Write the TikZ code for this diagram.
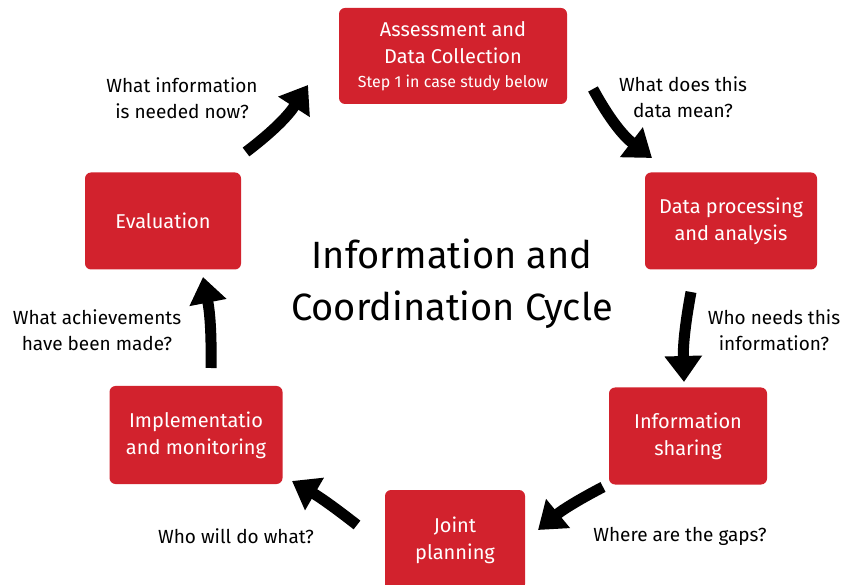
\documentclass[tikz,border=0pt]{standalone}
\usepackage{fontspec}
\setmainfont{Fira Sans}
\usetikzlibrary{arrows.meta}
\definecolor{boxred}{RGB}{210,34,45}

\begin{document}
\begin{tikzpicture}[x=1pt,y=-1pt,
  stage/.style={fill=boxred,rounded corners=6pt,text=white,align=center,inner sep=0pt,
    font=\fontsize{20}{27}\selectfont},
  question/.style={align=center,font=\fontsize{19}{26}\selectfont},
  bigarrow/.style={line width=11pt,-{Triangle[width=36pt,length=26pt]}}]
\useasboundingbox (0,0) rectangle (844,585);

% the six stages
\node [stage,minimum width=228pt,minimum height=96pt] (assess) at (453,56)
  {Assessment and\\Data Collection\\[-3pt]{\fontsize{16}{20}\selectfont Step 1 in case study below}};
\node [stage,minimum width=172pt,minimum height=97pt] (process) at (731,221) {Data processing\\and analysis};
\node [stage,minimum width=158pt,minimum height=97pt] (share) at (688,436) {Information\\sharing};
\node [stage,minimum width=140pt,minimum height=100pt] (plan) at (455,540) {Joint\\planning};
\node [stage,minimum width=173pt,minimum height=98pt] (impl) at (196,435) {Implementatio\\and monitoring};
\node [stage,minimum width=156pt,minimum height=97pt] (eval) at (163,221) {Evaluation};

\node [align=center,font=\fontsize{38}{52}\selectfont] (title) at (452,284) {Information and\\Coordination Cycle};

% questions
\node [question] (q1) at (182,98) {What information\\is needed now?};
\node [question] (q2) at (683,97) {What does this\\data mean?};
\node [question] (q3) at (774,330) {Who needs this\\information?};
\node [question] (q4) at (680,536) {Where are the gaps?};
\node [question] (q5) at (236,536) {Who will do what?};
\node [question] (q6) at (97,330) {What achievements\\have been made?};

% arrow ends
\coordinate (a1) at (246,152); \coordinate (b1) at (308,85);
\coordinate (a2) at (593,89);  \coordinate (b2) at (652,158);
\coordinate (a3) at (691,292); \coordinate (b3) at (684,382);
\coordinate (a4) at (603,487); \coordinate (b4) at (538,530);
\coordinate (a5) at (357,525); \coordinate (b5) at (292,481);
\coordinate (a6) at (211,368); \coordinate (b6) at (203,277);

\draw [bigarrow] (a1) to [bend right=10] (b1);
\draw [bigarrow] (a2) to [bend right=12] (b2);
\draw [bigarrow] (a3) to [bend right=6] (b3);
\draw [bigarrow] (a4) to [bend right=6] (b4);
\draw [bigarrow] (a5) to [bend right=4] (b5);
\draw [bigarrow] (a6) to [bend right=6] (b6);
\end{tikzpicture}
\end{document}
